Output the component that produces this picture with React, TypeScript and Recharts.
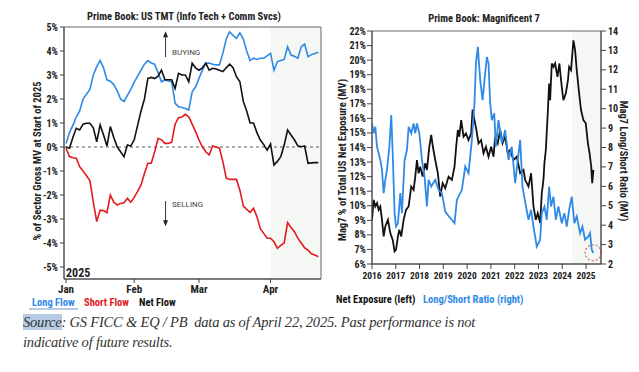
import React from "react";
import {
  LineChart,
  Line,
  XAxis,
  YAxis,
  ReferenceLine,
  ReferenceArea,
  ReferenceDot,
} from "recharts";

// ---- left panel: US TMT flows (trading-day index since Jan 2, 2025) ----
const tradingDay = [
  0, 1, 2, 3, 4, 5, 6, 7, 8, 9, 10, 11, 12, 13, 14, 15, 16, 17, 18, 19, 20, 21, 22, 23, 24,
  25, 26, 27, 28, 29, 30, 31, 32, 33, 34, 35, 36, 37, 38, 39, 40, 41, 42, 43, 44, 45, 46, 47,
  48, 49, 50, 51, 52, 53, 54, 55, 56, 57, 58, 59, 60, 61, 62, 63, 64, 65, 66, 67, 68, 69, 70,
  71, 72, 73, 74,
];
const longFlow = [
  0.15, 0.6, 0.9, 1.25, 1.5, 2.0, 2.2, 2.4, 3.0, 3.35, 3.6, 3.3, 2.8, 2.74, 2.6, 2.35, 2.0, 1.89,
  2.15, 2.4, 2.7, 2.95, 3.2, 3.45, 3.6, 3.5, 3.45, 3.1, 2.72, 2.8, 2.75, 2.72, 1.82, 1.68, 1.65,
  1.6, 1.54, 2.3, 2.5, 2.86, 3.2, 3.49, 3.5, 3.45, 3.42, 3.42, 3.9, 4.5, 4.8, 4.65, 4.53, 4.76,
  4.5, 4.0, 3.6, 3.7, 3.65, 3.7, 3.7, 3.8, 3.9, 3.2, 3.55, 3.6, 3.65, 4.18, 3.83, 3.78, 3.7,
  4.18, 4.29, 3.76, 3.85, 3.9, 3.95,
];
const shortFlow = [
  -0.05, -0.4, -0.45, -0.47, -0.82, -1.0, -1.2, -1.4, -2.3, -3.11, -2.63, -2.65, -2.74, -2.0,
  -2.3, -2.42, -2.35, -2.32, -2.14, -2.3, -2.1, -1.85, -1.58, -1.1, -0.68, -0.68, -0.2, 0.36,
  0.3, 0.15, 0.15, 0.2, 0.95, 1.22, 1.25, 1.36, 1.26, 0.95, 0.64, 0.3, 0.01, -0.2, -0.33, 0.04,
  0.0, -0.05, -0.6, -1.3, -1.35, -1.35, -1.35, -1.8, -2.45, -2.6, -2.72, -2.55, -2.9, -3.4,
  -3.6, -3.8, -3.8, -3.95, -4.22, -4.1, -4.0, -3.15, -3.35, -3.53, -3.8, -4.0, -4.2, -4.3,
  -4.45, -4.5, -4.57,
];
const netFlow = [
  0.0, -0.05, 0.4, 0.78, 0.71, 0.95, 0.99, 0.99, 0.8, 0.22, 0.92, 0.5, 0.04, 0.85, 0.4, 0.01,
  -0.2, -0.4, 0.08, 0.04, 0.3, 0.9, 1.5, 2.0, 2.86, 2.9, 2.85, 2.95, 3.2, 2.8, 2.8, 2.8, 2.44,
  3.07, 3.0, 3.0, 2.72, 3.49, 3.3, 3.2, 3.3, 3.49, 3.2, 3.28, 3.25, 3.2, 3.14, 3.3, 3.45, 3.3,
  2.93, 2.72, 1.9, 1.5, 1.0, 1.0, 0.6, 0.29, 0.1, -0.13, 0.13, -0.75, -0.6, -0.4, 0.08, 0.71,
  0.5, 0.3, 0.05, 0.01, 0.04, -0.68, -0.66, -0.65, -0.65,
];
const monthTicks = [0, 20, 39, 60];
const monthLabels = ["Jan", "Feb", "Mar", "Apr"];
const pctTicks = [-5, -4, -3, -2, -1, 0, 1, 2, 3, 4, 5];

// ---- right panel: Magnificent 7 ----
const netDates = [
  2016.0, 2016.07, 2016.14, 2016.21, 2016.28, 2016.35, 2016.42, 2016.49, 2016.56, 2016.67,
  2016.77, 2016.87, 2016.95, 2017.01, 2017.09, 2017.15, 2017.23, 2017.33, 2017.43, 2017.54,
  2017.65, 2017.75, 2017.82, 2017.89, 2017.96, 2018.03, 2018.13, 2018.24, 2018.31, 2018.41,
  2018.49, 2018.56, 2018.66, 2018.77, 2018.87, 2018.97, 2019.08, 2019.22, 2019.36, 2019.47,
  2019.54, 2019.61, 2019.67, 2019.75, 2019.85, 2019.95, 2020.06, 2020.17, 2020.23, 2020.31,
  2020.39, 2020.48, 2020.59, 2020.69, 2020.79, 2020.9, 2021.01, 2021.11, 2021.18, 2021.29,
  2021.39, 2021.49, 2021.6, 2021.71, 2021.81, 2021.95, 2022.09, 2022.23, 2022.37, 2022.44,
  2022.51, 2022.58, 2022.69, 2022.79, 2022.89, 2022.97, 2023.07, 2023.14, 2023.21, 2023.25,
  2023.31, 2023.39, 2023.45, 2023.49, 2023.56, 2023.63, 2023.7, 2023.8, 2023.88, 2023.98,
  2024.05, 2024.15, 2024.24, 2024.29, 2024.37, 2024.47, 2024.54, 2024.61, 2024.71, 2024.79,
  2024.89, 2024.99, 2025.08, 2025.15, 2025.22, 2025.26, 2025.31,
];
const netExposure = [
  9.03, 10.4, 9.95, 10.18, 9.72, 9.95, 9.03, 7.89, 8.58, 9.03, 8.12, 7.66, 6.86, 6.98, 7.89,
  8.35, 7.89, 9.03, 9.72, 9.95, 11.32, 11.09, 12.0, 13.14, 12.23, 12.68, 12.0, 12.92, 12.46,
  14.05, 14.86, 14.05, 13.14, 12.23, 10.63, 11.55, 11.2, 12.0, 11.77, 12.68, 14.05, 15.2,
  14.74, 15.88, 14.74, 14.97, 14.51, 14.97, 16.6, 15.88, 15.2, 14.29, 14.51, 13.6, 14.05,
  13.37, 14.05, 13.37, 14.74, 14.29, 15.2, 14.29, 14.74, 13.6, 13.83, 13.14, 13.37, 12.23,
  12.46, 11.77, 11.55, 11.32, 12.23, 9.95, 9.03, 9.49, 8.81, 10.86, 11.77, 12.92, 13.83, 16.34,
  18.4, 17.25, 19.77, 19.53, 19.77, 18.85, 19.77, 18.16, 17.25, 17.71, 18.62, 19.53, 19.31,
  21.36, 20.68, 19.31, 17.71, 16.57, 15.88, 15.66, 14.29, 13.6, 12.68, 11.55, 12.46,
];
const lsDates = [
  2016.0, 2016.07, 2016.14, 2016.21, 2016.35, 2016.42, 2016.49, 2016.56, 2016.63, 2016.73,
  2016.81, 2016.87, 2016.95, 2017.01, 2017.09, 2017.19, 2017.26, 2017.37, 2017.47, 2017.54,
  2017.65, 2017.75, 2017.82, 2017.89, 2017.99, 2018.1, 2018.21, 2018.31, 2018.38, 2018.49,
  2018.66, 2018.8, 2018.94, 2019.08, 2019.29, 2019.36, 2019.47, 2019.57, 2019.78, 2019.92,
  2020.06, 2020.2, 2020.31, 2020.37, 2020.45, 2020.55, 2020.65, 2020.73, 2020.83, 2020.9,
  2020.97, 2021.04, 2021.14, 2021.21, 2021.32, 2021.46, 2021.6, 2021.74, 2021.88, 2022.02,
  2022.13, 2022.23, 2022.33, 2022.44, 2022.58, 2022.69, 2022.79, 2022.93, 2023.07, 2023.14,
  2023.25, 2023.35, 2023.45, 2023.53, 2023.63, 2023.73, 2023.84, 2023.98, 2024.09, 2024.19,
  2024.29, 2024.4, 2024.51, 2024.61, 2024.75, 2024.85, 2024.96, 2025.1, 2025.17, 2025.24,
  2025.31,
];
const lsRatio = [
  9.24, 8.73, 9.07, 8.04, 7.36, 6.85, 5.65, 6.33, 6.85, 8.04, 9.67, 7.7, 4.62, 3.93, 4.1, 5.65,
  4.62, 7.36, 7.87, 9.07, 8.73, 9.24, 8.73, 9.24, 8.73, 7.36, 6.5, 4.96, 6.33, 5.99, 6.33, 5.82,
  5.65, 4.7, 4.36, 4.28, 4.1, 5.3, 5.82, 7.02, 6.68, 8.39, 10.27, 12.32, 13.18, 11.47, 10.44,
  11.47, 12.66, 12.32, 10.27, 9.41, 9.76, 8.04, 9.41, 8.22, 8.9, 7.36, 8.04, 6.16, 7.36, 8.39,
  5.99, 5.2, 4.28, 4.79, 3.93, 2.9, 3.25, 4.62, 4.96, 4.28, 5.99, 4.96, 5.47, 4.28, 4.96, 4.1,
  4.62, 3.93, 4.79, 5.47, 4.1, 4.45, 3.59, 3.93, 3.25, 3.42, 3.59, 2.74, 2.57,
];
const yearTicks = [2016, 2017, 2018, 2019, 2020, 2021, 2022, 2023, 2024, 2025];
const exposureTicks = [6, 7, 8, 9, 10, 11, 12, 13, 14, 15, 16, 17, 18, 19, 20, 21, 22];
const ratioTicks = [2, 3, 4, 5, 6, 7, 8, 9, 10, 11, 12, 13, 14];

const BLUE = "#2e8ae6";
const RED = "#e3191c";
const BLACK = "#111111";
const SHADE = "#f5f7f4";
const AXIS = "#444";
const FONT = "'Roboto Condensed','Liberation Sans Narrow','DejaVu Sans Condensed',Roboto,sans-serif";

const tmtRows = tradingDay.map((d, i) => ({
  d,
  long: longFlow[i],
  short: shortFlow[i],
  net: netFlow[i],
}));
const netRows = netDates.map((t, i) => ({ t, v: netExposure[i] }));
const lsRows = lsDates.map((t, i) => ({ t, v: lsRatio[i] }));

const tickStyle = { fill: "#222", fontSize: 10, fontWeight: 700, fontFamily: FONT };

function Arrow(props: any) {
  const { x1, y1, x2, y2 } = props;
  const dir = y2 < y1 ? -1 : 1;
  return (
    <g>
      <line x1={x1} y1={y1} x2={x2} y2={y2 - dir * 4} stroke="#333" strokeWidth={1} />
      <polygon
        points={`${x2},${y2} ${x2 - 2.5},${y2 - dir * 6} ${x2 + 2.5},${y2 - dir * 6}`}
        fill="#222"
      />
    </g>
  );
}

const abs = (extra: React.CSSProperties): React.CSSProperties => ({
  position: "absolute",
  whiteSpace: "nowrap",
  fontFamily: FONT,
  fontWeight: 700,
  ...extra,
});

export default function App() {
  return (
    <div
      style={{
        position: "absolute",
        left: 0,
        top: 0,
        width: 639,
        height: 372,
        background: "#fff",
        overflow: "hidden",
      }}
    >
      {/* left panel */}
      <div style={{ position: "absolute", left: 0, top: 0 }}>
        <LineChart
          width={335}
          height={300}
          data={tmtRows}
          margin={{ top: 27, right: 14, bottom: 0, left: 0 }}
        >
          <XAxis
            dataKey="d"
            type="number"
            domain={[-0.6, 74.8]}
            allowDataOverflow
            ticks={monthTicks}
            interval={0}
            tickFormatter={(v: number) => monthLabels[monthTicks.indexOf(v)] ?? ""}
            tick={{ ...tickStyle, fontSize: 11 }}
            tickSize={4}
            tickMargin={2}
            height={21}
            stroke={AXIS}
          />
          <YAxis
            type="number"
            domain={[-5.5, 5]}
            allowDataOverflow
            ticks={pctTicks}
            interval={0}
            tickFormatter={(v: number) => `${v}%`}
            tick={tickStyle}
            tickSize={4}
            tickMargin={2}
            width={64}
            stroke={AXIS}
          />
          <ReferenceArea x1={60} x2={74.8} y1={-5.5} y2={5} fill={SHADE} fillOpacity={1} stroke="none" />
          <ReferenceArea x1={-0.6} x2={74.8} y1={-5.5} y2={5} fill="none" stroke="#666" strokeWidth={1} />
          <ReferenceLine y={0} stroke="#333" strokeDasharray="3 3" strokeWidth={0.8} />
          <ReferenceLine
            segment={[
              { x: 29.2, y: 3.75 },
              { x: 29.2, y: 4.82 },
            ]}
            shape={Arrow}
          />
          <ReferenceLine
            segment={[
              { x: 29.2, y: -2.25 },
              { x: 29.2, y: -3.3 },
            ]}
            shape={Arrow}
          />
          <Line dataKey="long" stroke={BLUE} strokeWidth={1.6} dot={false} isAnimationActive={false} />
          <Line dataKey="short" stroke={RED} strokeWidth={1.6} dot={false} isAnimationActive={false} />
          <Line dataKey="net" stroke={BLACK} strokeWidth={1.6} dot={false} isAnimationActive={false} />
        </LineChart>
      </div>

      <div style={abs({ left: 184, top: 16, fontSize: 10.5, transform: "translate(-50%,-50%)", color: "#222" })}>
        Prime Book: US TMT (Info Tech + Comm Svcs)
      </div>
      <div
        style={abs({
          left: 37,
          top: 161,
          fontSize: 10.5,
          color: "#222",
          transform: "translate(-50%,-50%) rotate(-90deg)",
        })}
      >
        % of Sector Gross MV at Start of 2025
      </div>
      <div style={abs({ left: 172, top: 48, fontSize: 8, fontWeight: 400, color: "#444", fontFamily: "Roboto, sans-serif" })}>
        BUYING
      </div>
      <div style={abs({ left: 172, top: 200, fontSize: 8, fontWeight: 400, color: "#444", fontFamily: "Roboto, sans-serif" })}>
        SELLING
      </div>
      <div style={abs({ left: 66, top: 266, fontSize: 12, color: "#222" })}>2025</div>

      <div style={abs({ left: 29, top: 308, width: 49, height: 2, background: "#b6cbe2" })} />
      <div style={abs({ left: 32, top: 296, fontSize: 10.5, color: BLUE })}>Long Flow</div>
      <div style={abs({ left: 84, top: 296, fontSize: 10.5, color: RED })}>Short Flow</div>
      <div style={abs({ left: 139, top: 296, fontSize: 10.5, color: BLACK })}>Net Flow</div>

      {/* right panel */}
      <div style={{ position: "absolute", left: 325, top: 0 }}>
        <LineChart width={314} height={285} margin={{ top: 31, right: 0, bottom: 0, left: 0 }}>
          <XAxis
            dataKey="t"
            type="number"
            domain={[2016, 2025.63]}
            allowDataOverflow
            ticks={yearTicks}
            interval={0}
            tick={{ ...tickStyle, fontSize: 9.5 }}
            tickSize={5}
            tickMargin={3}
            height={21}
            stroke={AXIS}
          />
          <YAxis
            yAxisId="left"
            type="number"
            domain={[6, 22]}
            allowDataOverflow
            ticks={exposureTicks}
            interval={0}
            tickFormatter={(v: number) => `${v}%`}
            tick={tickStyle}
            tickSize={5}
            tickMargin={1}
            width={47}
            stroke={AXIS}
          />
          <YAxis
            yAxisId="right"
            orientation="right"
            type="number"
            domain={[2, 14]}
            allowDataOverflow
            ticks={ratioTicks}
            interval={0}
            tick={tickStyle}
            tickSize={5}
            tickMargin={2}
            width={38}
            stroke={AXIS}
          />
          <ReferenceArea
            yAxisId="left"
            x1={2024.42}
            x2={2025.63}
            y1={6}
            y2={22}
            fill={SHADE}
            fillOpacity={1}
            stroke="none"
          />
          <ReferenceArea
            yAxisId="left"
            x1={2016}
            x2={2025.63}
            y1={6}
            y2={22}
            fill="none"
            stroke="#666"
            strokeWidth={1}
          />
          <Line
            yAxisId="left"
            data={netRows}
            dataKey="v"
            stroke={BLACK}
            strokeWidth={1.8}
            dot={false}
            isAnimationActive={false}
          />
          <Line
            yAxisId="right"
            data={lsRows}
            dataKey="v"
            stroke={BLUE}
            strokeWidth={1.8}
            dot={false}
            isAnimationActive={false}
          />
          <ReferenceDot
            yAxisId="right"
            x={2025.3}
            y={2.58}
            r={8}
            fill="none"
            stroke="#b03030"
            strokeDasharray="2 2"
            strokeWidth={1}
          />
        </LineChart>
      </div>

      <div style={abs({ left: 484, top: 18, fontSize: 10.5, transform: "translate(-50%,-50%)", color: "#222" })}>
        Prime Book: Magnificent 7
      </div>
      <div
        style={abs({
          left: 342,
          top: 160,
          fontSize: 10.5,
          color: "#222",
          transform: "translate(-50%,-50%) rotate(-90deg)",
        })}
      >
        Mag7 % of Total US Net Exposure (MV)
      </div>
      <div
        style={abs({
          left: 623,
          top: 161,
          fontSize: 10.5,
          color: "#222",
          transform: "translate(-50%,-50%) rotate(90deg)",
        })}
      >
        Mag7 Long/Short Ratio (MV)
      </div>
      <div style={abs({ left: 336, top: 293, fontSize: 10.5, color: BLACK })}>Net Exposure (left)</div>
      <div style={abs({ left: 423, top: 293, fontSize: 10.5, color: BLUE })}>Long/Short Ratio (right)</div>

      {/* source note */}
      <div
        style={{
          position: "absolute",
          left: 23,
          top: 312,
          width: 600,
          fontFamily: "'Liberation Serif', 'DejaVu Serif', serif",
          fontStyle: "italic",
          fontSize: 14.5,
          letterSpacing: -0.2,
          lineHeight: "20px",
          color: "#333",
        }}
      >
        <span style={{ background: "#b6cbe2" }}>Source</span>: GS FICC &amp; EQ / PB&nbsp; data as of April
        22, 2025. Past performance is not
        <br />
        indicative of future results.
      </div>
    </div>
  );
}
